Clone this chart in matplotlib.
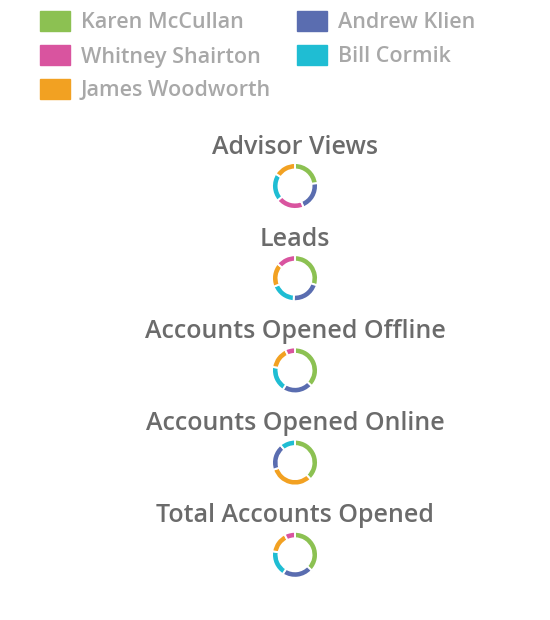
import matplotlib.pyplot as plt
import numpy as np

people = ["Karen McCullan", "Andrew Klien", "Whitney Shairton", "Bill Cormik", "James Woodworth"]
colors = ["#8cc152", "#5a6db0", "#d9549f", "#1fbdd3", "#f2a122"]

metrics = ["Advisor Views", "Leads", "Accounts Opened Offline",
           "Accounts Opened Online", "Total Accounts Opened"]

advisor_views = [23, 21, 20, 20, 16]
leads = [30, 21, 14, 18, 17]
opened_offline = [37, 22, 7, 18.5, 15.5]
opened_online = [38, 19, 0, 11, 32]
total_opened = [37, 22, 7.5, 18.5, 15]
values = [advisor_views, leads, opened_offline, opened_online, total_opened]

W, H = 550, 620
fig = plt.figure(figsize=(W / 100, H / 100), dpi=100)
plt.rcParams['font.family'] = ['Open Sans', 'DejaVu Sans']

# legend, laid out row by row in two columns
leg_pos = [(40, 21), (297, 21), (40, 55), (297, 55), (40, 89)]
for (x, y), name, c in zip(leg_pos, people, colors):
    fig.patches.append(plt.Rectangle((x / W, 1 - (y + 10) / H), 30 / W, 20 / H,
                                     transform=fig.transFigure, color=c))
    fig.text((x + 41) / W, 1 - (y + 2) / H, name, color="#a8a8a8", fontsize=15.5,
             fontweight="semibold", va="center", ha="left")

cx = 295
for i, (title, vals) in enumerate(zip(metrics, values)):
    ty = 147 + i * 92.2
    cy = ty + 39
    fig.text(cx / W, 1 - ty / H, title, color="#6b6b6b", fontsize=18,
             fontweight="semibold", ha="center", va="center")
    vals = np.array(vals, dtype=float)
    order = np.argsort(-vals, kind="stable")
    order = [k for k in order if vals[k] > 0]
    r = 25
    ax = fig.add_axes([(cx - r) / W, 1 - (cy + r) / H, 2 * r / W, 2 * r / H])
    ax.pie(vals[order], colors=[colors[k] for k in order], startangle=90,
           counterclock=False, radius=0.92,
           wedgeprops=dict(width=0.26, edgecolor="white", linewidth=1.4))
    ax.set_xlim(-1, 1)
    ax.set_ylim(-1, 1)
    ax.set_aspect("equal")

fig.savefig("out.png", dpi=100)
